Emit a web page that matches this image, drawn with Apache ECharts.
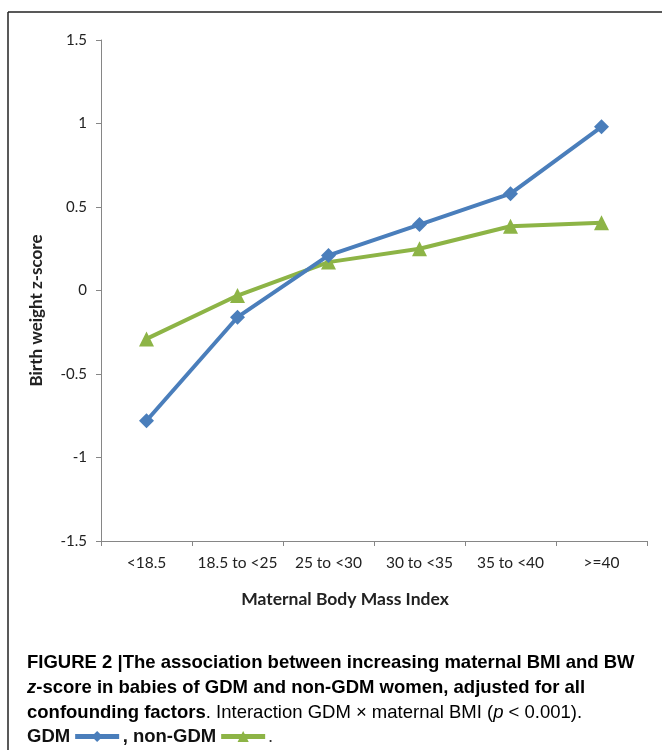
<!DOCTYPE html>
<html>
<head>
<meta charset="utf-8">
<script src="https://cdn.jsdelivr.net/npm/echarts@6/dist/echarts.min.js"></script>
<style>
  html, body { margin: 0; padding: 0; background: #fff; }
  #chart { width: 662px; height: 750px; }
</style>
</head>
<body>
<div id="chart"></div>
<script>
// 数据
var bmiGroups = ['<18.5', '18.5 to <25', '25 to <30', '30 to <35', '35 to <40', '>=40']
var gdmValues = [-0.78, -0.16, 0.21, 0.395, 0.58, 0.98]
var nonGdmValues = [-0.29, -0.03, 0.17, 0.25, 0.385, 0.405]
var yTicks = { min: -1.5, max: 1.5, step: 0.5 }

var chart = echarts.init(document.getElementById('chart'))

var capFont = '"Liberation Sans", Arial, sans-serif'
var axisFont = 'Lato, "Open Sans", sans-serif'

var option = {
  animation: false,
  backgroundColor: '#fff',
  grid: { left: 101, right: 15, top: 40, bottom: 209 },
  legend: {
    left: 27,
    top: 727,
    padding: 0,
    align: 'right',
    itemGap: 1,
    itemWidth: 44,
    itemHeight: 14,
    lineStyle: { width: 5 },
    formatter: function (name) {
      return name === 'GDM' ? 'GDM' : ', non-GDM'
    },
    textStyle: { fontFamily: capFont, fontWeight: 'bold', fontSize: 18.5, color: '#111' },
    data: ['GDM', 'non-GDM']
  },
  xAxis: {
    type: 'category',
    data: bmiGroups,
    boundaryGap: true,
    name: 'Maternal Body Mass Index',
    nameLocation: 'middle',
    nameGap: 49,
    nameTextStyle: {
      fontFamily: axisFont, fontWeight: 'bold', fontSize: 17.5, color: '#222',
      padding: [0, 58, 0, 0]
    },
    axisLine: { onZero: false, lineStyle: { color: '#868686', width: 1 } },
    axisTick: { show: true, length: 5, inside: false, lineStyle: { color: '#868686' } },
    axisLabel: { fontFamily: axisFont, fontSize: 15.5, color: '#222', margin: 14, interval: 0 }
  },
  yAxis: {
    type: 'value',
    min: yTicks.min,
    max: yTicks.max,
    interval: yTicks.step,
    name: 'Birth weight z-score',
    nameLocation: 'middle',
    nameRotate: 90,
    nameGap: 56,
    nameTextStyle: {
      fontFamily: axisFont, fontWeight: 'bold', fontSize: 17, color: '#222',
      padding: [0, 40, 0, 0]
    },
    axisLine: { show: true, lineStyle: { color: '#868686', width: 1 } },
    axisTick: { show: true, length: 5, inside: false, lineStyle: { color: '#868686' } },
    splitLine: { show: false },
    axisLabel: { fontFamily: axisFont, fontSize: 15, color: '#222', margin: 14 }
  },
  series: [
    {
      name: 'GDM',
      type: 'line',
      data: gdmValues,
      symbol: 'diamond',
      symbolSize: 15,
      itemStyle: { color: '#4A7EBB' },
      lineStyle: { color: '#4A7EBB', width: 4 },
      z: 3
    },
    {
      name: 'non-GDM',
      type: 'line',
      data: nonGdmValues,
      symbol: 'triangle',
      symbolSize: 15,
      itemStyle: { color: '#8DB446' },
      lineStyle: { color: '#8DB446', width: 4 },
      z: 2
    }
  ],
  graphic: [
    // 外框
    { type: 'line', shape: { x1: 8, y1: 12, x2: 662, y2: 12 }, style: { stroke: '#222', lineWidth: 1.5 } },
    { type: 'line', shape: { x1: 8, y1: 12, x2: 8, y2: 750 }, style: { stroke: '#222', lineWidth: 1.5 } },
    // 图注
    {
      type: 'text',
      left: 27,
      top: 650,
      style: {
        text: '{b|FIGURE 2 |The association between increasing maternal BMI and BW}\n' +
          '{bi|z}{b|-score in babies of GDM and non-GDM women, adjusted for all}\n' +
          '{b|confounding factors}{n|. Interaction GDM × maternal BMI (}{ni|p}{n| < 0.001).}',
        lineHeight: 25,
        rich: {
          b: { fontFamily: capFont, fontWeight: 'bold', fontSize: 18.5, color: '#111', lineHeight: 25 },
          bi: { fontFamily: capFont, fontWeight: 'bold', fontStyle: 'italic', fontSize: 18.5, color: '#111', lineHeight: 25 },
          n: { fontFamily: capFont, fontSize: 18.5, color: '#3a3a3a', lineHeight: 25 },
          ni: { fontFamily: capFont, fontStyle: 'italic', fontSize: 18.5, color: '#3a3a3a', lineHeight: 25 }
        }
      }
    },
    {
      type: 'text',
      left: 268,
      top: 727,
      style: { text: '.', fontFamily: capFont, fontSize: 18.5, fill: '#333' }
    }
  ]
}

chart.setOption(option)
</script>
</body>
</html>
